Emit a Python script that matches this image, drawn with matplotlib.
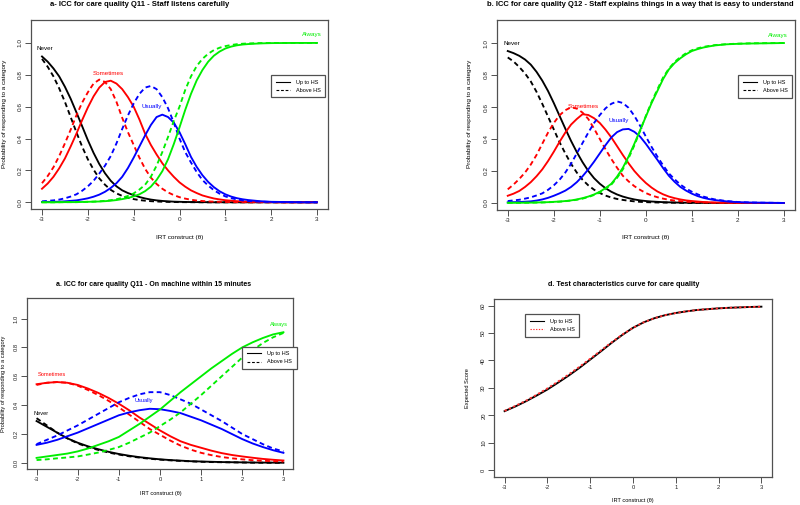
import matplotlib
matplotlib.use('Agg')
import matplotlib.pyplot as plt
from matplotlib.lines import Line2D

plt.rcParams['font.family'] = ['Liberation Sans', 'DejaVu Sans']
plt.rcParams['axes.unicode_minus'] = False

# ---------------- data ----------------
# theta grid for the two top panels (finer where curves bend)
theta_ab = [-3.0, -2.875, -2.75, -2.625, -2.5, -2.375, -2.25, -2.125, -2.0, -1.875, -1.75,
            -1.625, -1.5, -1.375, -1.25, -1.125, -1.0, -0.875, -0.75, -0.625, -0.5, -0.375,
            -0.25, -0.125, 0.0, 0.125, 0.25, 0.375, 0.5, 0.625, 0.75, 0.875, 1.0, 1.125, 1.25,
            1.375, 1.5, 1.75, 2.0, 2.25, 2.5, 2.75, 3.0]
# theta grid for the two bottom panels
theta = [-3.0, -2.75, -2.5, -2.25, -2.0, -1.75, -1.5, -1.25, -1.0, -0.75, -0.5, -0.25,
         0.0, 0.25, 0.5, 0.75, 1.0, 1.25, 1.5, 1.75, 2.0, 2.25, 2.5, 2.75, 3.0]
categories = ['Never', 'Sometimes', 'Usually', 'Always']
groups = ['Up to HS', 'Above HS']

# Panel a (Q11 - Staff listens carefully)
a_never_up = [0.915, 0.882, 0.84, 0.79, 0.725, 0.65, 0.565, 0.478, 0.39, 0.31, 0.24, 0.182, 0.135,
              0.1, 0.075, 0.058, 0.045, 0.033, 0.024, 0.017, 0.012, 0.0085, 0.006, 0.004, 0.003,
              0.002, 0.0015, 0.0012, 0.001, 0.0005, 0, 0, 0, 0, 0, 0, 0, 0, 0, 0, 0, 0, 0]
a_some_up = [0.085, 0.118, 0.16, 0.213, 0.275, 0.35, 0.43, 0.515, 0.595, 0.665, 0.72, 0.755, 0.763,
             0.745, 0.71, 0.66, 0.6, 0.52, 0.43, 0.36, 0.30, 0.245, 0.2, 0.16, 0.125, 0.098, 0.075,
             0.058, 0.043, 0.033, 0.024, 0.018, 0.013, 0.01, 0.007, 0.0055, 0.004, 0.002, 0.001,
             0, 0, 0, 0]
a_usu_up = [0.002, 0.0025, 0.003, 0.004, 0.006, 0.009, 0.012, 0.018, 0.025, 0.035, 0.048, 0.066,
            0.09, 0.12, 0.16, 0.215, 0.28, 0.35, 0.42, 0.485, 0.535, 0.55, 0.535, 0.5, 0.44, 0.365,
            0.285, 0.222, 0.17, 0.128, 0.095, 0.069, 0.05, 0.036, 0.026, 0.019, 0.014, 0.007,
            0.003, 0.002, 0.001, 0, 0]
a_alw_up = [0, 0, 0, 0.0005, 0.001, 0.001, 0.001, 0.002, 0.003, 0.004, 0.005, 0.007, 0.01, 0.014,
            0.02, 0.027, 0.037, 0.05, 0.07, 0.098, 0.14, 0.195, 0.27, 0.365, 0.47, 0.58, 0.68,
            0.765, 0.83, 0.882, 0.92, 0.946, 0.965, 0.977, 0.985, 0.99, 0.993, 0.997, 0.999,
            0.9995, 1.0, 1.0, 1.0]
a_never_ab = [0.90, 0.85, 0.79, 0.715, 0.63, 0.535, 0.44, 0.35, 0.27, 0.205, 0.15, 0.11, 0.078,
              0.056, 0.04, 0.028, 0.02, 0.014, 0.01, 0.007, 0.005, 0.0035, 0.0025, 0.0017, 0.001,
              0.0008, 0.0005, 0.0003, 0, 0, 0, 0, 0, 0, 0, 0, 0, 0, 0, 0, 0, 0, 0]
a_some_ab = [0.12, 0.165, 0.22, 0.29, 0.37, 0.455, 0.545, 0.625, 0.69, 0.745, 0.77, 0.755, 0.71,
             0.63, 0.53, 0.44, 0.36, 0.28, 0.21, 0.155, 0.115, 0.085, 0.062, 0.045, 0.032, 0.023,
             0.016, 0.011, 0.008, 0.0055, 0.004, 0.003, 0.002, 0.0015, 0.001, 0.0007, 0, 0, 0, 0,
             0, 0, 0]
a_usu_ab = [0.006, 0.009, 0.012, 0.017, 0.025, 0.036, 0.05, 0.072, 0.1, 0.135, 0.18, 0.23, 0.29,
            0.37, 0.46, 0.545, 0.62, 0.68, 0.72, 0.73, 0.71, 0.66, 0.59, 0.50, 0.40, 0.315, 0.25,
            0.19, 0.14, 0.105, 0.076, 0.054, 0.037, 0.026, 0.018, 0.012, 0.008, 0.004, 0.002,
            0.001, 0, 0, 0]
a_alw_ab = [0, 0, 0, 0.0005, 0.001, 0.001, 0.001, 0.002, 0.003, 0.004, 0.006, 0.009, 0.013, 0.019,
            0.028, 0.04, 0.056, 0.08, 0.11, 0.16, 0.23, 0.315, 0.41, 0.51, 0.60, 0.705, 0.79,
            0.855, 0.90, 0.932, 0.955, 0.97, 0.98, 0.987, 0.992, 0.995, 0.997, 0.999, 1.0, 1.0,
            1.0, 1.0, 1.0]

# Panel b (Q12 - Staff explains things)
b_never_up = [0.95, 0.937, 0.92, 0.897, 0.865, 0.82, 0.765, 0.70, 0.625, 0.545, 0.465, 0.388,
              0.318, 0.255, 0.2, 0.155, 0.12, 0.092, 0.07, 0.053, 0.04, 0.03, 0.022, 0.016, 0.012,
              0.009, 0.007, 0.005, 0.004, 0.003, 0.002, 0.0015, 0.001, 0.0007, 0.0005, 0.0003, 0,
              0, 0, 0, 0, 0, 0]
b_some_up = [0.045, 0.058, 0.075, 0.1, 0.13, 0.167, 0.21, 0.262, 0.32, 0.382, 0.44, 0.49, 0.525,
             0.555, 0.55, 0.53, 0.5, 0.458, 0.41, 0.355, 0.3, 0.248, 0.2, 0.16, 0.125, 0.096,
             0.072, 0.054, 0.04, 0.03, 0.022, 0.016, 0.012, 0.009, 0.006, 0.0045, 0.003, 0.0015,
             0.001, 0, 0, 0, 0]
b_usu_up = [0.004, 0.005, 0.006, 0.008, 0.01, 0.015, 0.022, 0.032, 0.045, 0.06, 0.077, 0.1, 0.13,
            0.167, 0.21, 0.258, 0.31, 0.362, 0.41, 0.443, 0.46, 0.463, 0.445, 0.415, 0.37, 0.32,
            0.27, 0.218, 0.17, 0.132, 0.1, 0.077, 0.058, 0.043, 0.032, 0.024, 0.018, 0.01, 0.005,
            0.003, 0.002, 0.001, 0]
b_alw_up = [0.001, 0.001, 0.001, 0.0015, 0.002, 0.003, 0.004, 0.005, 0.007, 0.009, 0.012, 0.016,
            0.022, 0.03, 0.04, 0.053, 0.07, 0.093, 0.12, 0.165, 0.22, 0.29, 0.37, 0.455, 0.54,
            0.625, 0.70, 0.775, 0.835, 0.875, 0.905, 0.93, 0.95, 0.962, 0.972, 0.979, 0.985,
            0.992, 0.995, 0.997, 0.998, 0.999, 1.0]
b_never_ab = [0.91, 0.885, 0.85, 0.81, 0.76, 0.695, 0.62, 0.54, 0.46, 0.38, 0.31, 0.245, 0.19,
              0.145, 0.11, 0.083, 0.062, 0.046, 0.034, 0.025, 0.019, 0.014, 0.01, 0.007, 0.005,
              0.004, 0.003, 0.0025, 0.002, 0.0015, 0.001, 0.0007, 0, 0, 0, 0, 0, 0, 0, 0, 0, 0, 0]
b_some_ab = [0.085, 0.115, 0.15, 0.19, 0.24, 0.3, 0.37, 0.44, 0.5, 0.548, 0.58, 0.598, 0.59,
             0.565, 0.525, 0.465, 0.4, 0.335, 0.275, 0.22, 0.17, 0.135, 0.105, 0.082, 0.062,
             0.047, 0.036, 0.027, 0.02, 0.015, 0.011, 0.008, 0.006, 0.0045, 0.003, 0.002, 0.0015,
             0.001, 0, 0, 0, 0, 0]
b_usu_ab = [0.012, 0.016, 0.02, 0.027, 0.035, 0.047, 0.06, 0.082, 0.11, 0.145, 0.19, 0.245, 0.31,
            0.375, 0.44, 0.5, 0.55, 0.592, 0.62, 0.635, 0.625, 0.595, 0.545, 0.483, 0.415, 0.35,
            0.29, 0.235, 0.185, 0.148, 0.115, 0.09, 0.07, 0.054, 0.04, 0.03, 0.022, 0.012, 0.006,
            0.003, 0.0015, 0.001, 0]
b_alw_ab = [0.001, 0.001, 0.001, 0.0015, 0.002, 0.0025, 0.003, 0.0045, 0.006, 0.008, 0.011, 0.015,
            0.02, 0.027, 0.037, 0.05, 0.065, 0.088, 0.115, 0.157, 0.21, 0.28, 0.36, 0.45, 0.545,
            0.632, 0.71, 0.785, 0.84, 0.882, 0.912, 0.937, 0.955, 0.967, 0.976, 0.982, 0.987,
            0.993, 0.996, 0.998, 0.999, 0.9995, 1.0]

# Panel c (Q11 - On machine within 15 minutes)
c_never_up = [0.29, 0.25, 0.21, 0.17, 0.14, 0.115, 0.095, 0.077, 0.062, 0.05, 0.04, 0.032, 0.025,
              0.02, 0.016, 0.012, 0.01, 0.008, 0.006, 0.005, 0.004, 0.003, 0.0025, 0.002, 0.0015]
c_some_up = [0.545, 0.555, 0.56, 0.555, 0.54, 0.515, 0.485, 0.45, 0.41, 0.365, 0.315, 0.27, 0.225,
             0.185, 0.15, 0.125, 0.105, 0.085, 0.068, 0.055, 0.045, 0.036, 0.028, 0.022, 0.017]
c_usu_up = [0.125, 0.14, 0.16, 0.185, 0.21, 0.24, 0.27, 0.3, 0.33, 0.35, 0.365, 0.375, 0.372,
            0.36, 0.345, 0.32, 0.295, 0.265, 0.235, 0.2, 0.165, 0.135, 0.11, 0.088, 0.07]
c_alw_up = [0.035, 0.045, 0.055, 0.065, 0.08, 0.1, 0.125, 0.15, 0.18, 0.225, 0.27, 0.32, 0.37,
            0.43, 0.49, 0.545, 0.6, 0.655, 0.705, 0.755, 0.8, 0.835, 0.865, 0.89, 0.905]
c_never_ab = [0.31, 0.26, 0.21, 0.17, 0.135, 0.11, 0.09, 0.072, 0.058, 0.046, 0.037, 0.029, 0.023,
              0.018, 0.014, 0.011, 0.008, 0.006, 0.005, 0.004, 0.003, 0.002, 0.0015, 0.001, 0.001]
c_some_ab = [0.54, 0.555, 0.56, 0.555, 0.535, 0.505, 0.47, 0.43, 0.385, 0.335, 0.285, 0.235, 0.195,
             0.155, 0.12, 0.092, 0.07, 0.054, 0.041, 0.032, 0.025, 0.019, 0.015, 0.012, 0.01]
c_usu_ab = [0.13, 0.16, 0.19, 0.225, 0.26, 0.3, 0.34, 0.38, 0.42, 0.45, 0.475, 0.49, 0.49,
            0.47, 0.44, 0.41, 0.37, 0.33, 0.29, 0.245, 0.2, 0.165, 0.13, 0.1, 0.08]
c_alw_ab = [0.02, 0.025, 0.032, 0.038, 0.045, 0.058, 0.072, 0.09, 0.11, 0.14, 0.175, 0.21, 0.255,
            0.3, 0.35, 0.41, 0.47, 0.535, 0.6, 0.665, 0.73, 0.78, 0.83, 0.87, 0.9]

# Panel d (test characteristic curve)
tcc_up = [21.5, 23.2, 25.1, 27.2, 29.4, 31.9, 34.5, 37.3, 40.3, 43.3, 46.4, 49.3, 51.9,
          53.9, 55.4, 56.5, 57.3, 57.9, 58.4, 58.7, 59.0, 59.2, 59.35, 59.5, 59.6]
tcc_above = [21.6, 23.4, 25.3, 27.5, 29.8, 32.3, 34.9, 37.7, 40.6, 43.6, 46.6, 49.4, 51.9,
             53.9, 55.4, 56.5, 57.3, 57.9, 58.4, 58.7, 59.0, 59.2, 59.35, 59.5, 59.6]

x_ticks = [-3, -2, -1, 0, 1, 2, 3]
prob_ticks = [0.0, 0.2, 0.4, 0.6, 0.8, 1.0]
score_ticks = [0, 10, 20, 30, 40, 50, 60]

titles = ['a- ICC for care quality Q11 - Staff listens carefully',
          'b. ICC for care quality Q12 - Staff explains things in a way that is easy to understand',
          'a. ICC for care quality Q11 - On machine within 15 minutes',
          'd. Test characteristics curve for care quality']

# ---------------- drawing ----------------
W, H = 800, 505
fig = plt.figure(figsize=(8, 5.05), dpi=100)

FRAME = '#505050'
cat_colors = ['black', '#ff0000', '#0000ff', '#00ee00']
DASH = (2.6, 1.8)


def fpx(x, y):
    return x / W, 1 - y / H


def box(x0, y0, x1, y1):
    return [x0 / W, 1 - y1 / H, (x1 - x0) / W, (y1 - y0) / H]


def style_axes(ax, yticks, ylim, ylabels, tick_fs):
    ax.set_xlim(-3.24, 3.24)
    ax.set_ylim(*ylim)
    ax.set_xticks(x_ticks)
    ax.set_xticklabels([str(t) for t in x_ticks])
    ax.set_yticks(yticks)
    ax.set_yticklabels(ylabels, rotation=90, va='center')
    for s in ax.spines.values():
        s.set_color(FRAME)
        s.set_linewidth(0.9)
    ax.tick_params(direction='out', length=4.0, width=0.7, color=FRAME,
                   labelsize=tick_fs, pad=1.8, labelcolor='#222222')


def make_legend(ax, handles, anchor):
    leg = ax.legend(handles, groups, loc='upper left', bbox_to_anchor=anchor,
                    bbox_transform=ax.transData, fontsize=4.0, frameon=True,
                    fancybox=False, edgecolor=FRAME, framealpha=1, borderaxespad=0,
                    handlelength=2.6, handletextpad=1.0, borderpad=0.85, labelspacing=0.55)
    leg.get_frame().set_linewidth(0.9)
    leg.set_zorder(5)
    return leg


def icc_panel(rect, xs, up, above, label_pos, tick_fs, lab_fs, leg_anchor):
    ax = fig.add_axes(rect)
    for i in range(4):
        ax.plot(xs, up[i], color=cat_colors[i], lw=1.35, solid_joinstyle='round')
        ax.plot(xs, above[i], color=cat_colors[i], lw=1.35, dashes=DASH)
    for i, (tx, ty) in enumerate(label_pos):
        ax.text(tx, ty, categories[i], color=cat_colors[i], fontsize=lab_fs,
                ha='center', va='center')
    style_axes(ax, prob_ticks, (-0.044, 1.144), ['%.1f' % t for t in prob_ticks], tick_fs)
    handles = [Line2D([], [], color='black', lw=0.8),
               Line2D([], [], color='black', lw=0.8, dashes=(2.5, 1.6))]
    make_legend(ax, handles, leg_anchor)
    return ax


# Panel a
icc_panel(box(31, 20, 328, 209.3), theta_ab,
          [a_never_up, a_some_up, a_usu_up, a_alw_up],
          [a_never_ab, a_some_ab, a_usu_ab, a_alw_ab],
          [(-2.94, 0.966), (-1.56, 0.81), (-0.6, 0.60), (2.88, 1.05)],
          4.6, 4.5, (2.0, 0.80))
fig.text(*fpx(139.5, 4.6), titles[0], fontsize=5.5, fontweight='bold', ha='center', va='center')
fig.text(*fpx(180, 237), 'IRT construct (\u03b8)', fontsize=4.6, ha='center', va='center')
fig.text(*fpx(5, 114), 'Probability of responding to a category', fontsize=4.6,
         rotation=90, ha='center', va='center')

# Panel b
icc_panel(box(496.7, 20, 795, 210), theta_ab,
          [b_never_up, b_some_up, b_usu_up, b_alw_up],
          [b_never_ab, b_some_ab, b_usu_ab, b_alw_ab],
          [(-2.92, 1.0), (-1.36, 0.605), (-0.6, 0.515), (2.86, 1.05)],
          4.6, 4.5, (2.0, 0.80))
fig.text(*fpx(487.3, 4.6), titles[1], fontsize=5.5, fontweight='bold', ha='left', va='center')
fig.text(*fpx(646, 237), 'IRT construct (\u03b8)', fontsize=4.6, ha='center', va='center')
fig.text(*fpx(470, 114), 'Probability of responding to a category', fontsize=4.6,
         rotation=90, ha='center', va='center')

# Panel c
icc_panel(box(26.7, 297.7, 293.3, 469.3), theta,
          [c_never_up, c_some_up, c_usu_up, c_alw_up],
          [c_never_ab, c_some_ab, c_usu_ab, c_alw_ab],
          [(-2.88, 0.345), (-2.62, 0.61), (-0.39, 0.43), (2.9, 0.96)],
          4.2, 4.1, (2.0, 0.805))
fig.text(*fpx(153.3, 284), titles[2], fontsize=5.0, fontweight='bold', ha='center', va='center')
fig.text(*fpx(160.5, 493.3), 'IRT construct (\u03b8)', fontsize=4.1, ha='center', va='center')
fig.text(*fpx(3.5, 384), 'Probability of responding to a category', fontsize=4.1,
         rotation=90, ha='center', va='center')

# Panel d
axd = fig.add_axes(box(494.3, 299, 771.7, 476.7))
axd.plot(theta, tcc_up, color='black', lw=1.35)
axd.plot(theta, tcc_above, color='#ff3030', lw=1.35, dashes=(1.2, 1.3))
style_axes(axd, score_ticks, (-2.4, 62.4), [str(t) for t in score_ticks], 4.2)
hd = [Line2D([], [], color='black', lw=0.8),
      Line2D([], [], color='#ff3030', lw=0.8, dashes=(1.2, 1.3))]
make_legend(axd, hd, (-2.52, 56.8))
fig.text(*fpx(624, 284), titles[3], fontsize=5.2, fontweight='bold', ha='center', va='center')
fig.text(*fpx(633, 500.7), 'IRT construct (\u03b8)', fontsize=4.1, ha='center', va='center')
fig.text(*fpx(468, 388), 'Expected Score', fontsize=4.1, rotation=90, ha='center', va='center')

fig.savefig('out.png', dpi=100)
